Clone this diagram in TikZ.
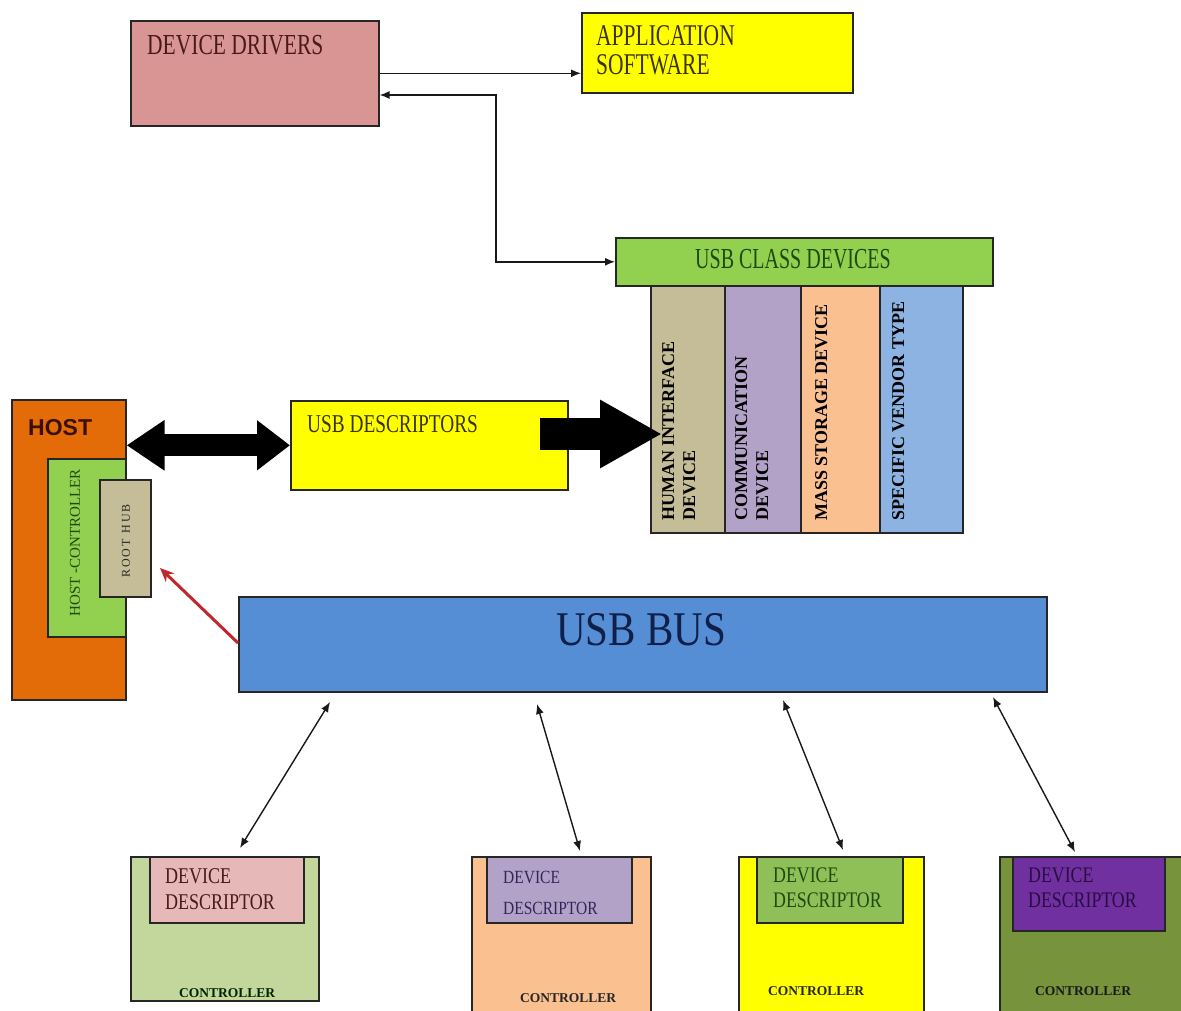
\documentclass[tikz,border=0pt]{standalone}
\usepackage{fontspec}
\setmainfont{Liberation Serif}
\newfontfamily\hostfont{Liberation Sans}
\usetikzlibrary{arrows.meta,calc}
\definecolor{ddfill}{HTML}{D99594}
\definecolor{yel}{HTML}{FFFF00}
\definecolor{grn}{HTML}{92D050}
\definecolor{tan}{HTML}{C4BD97}
\definecolor{lav}{HTML}{B3A2C7}
\definecolor{peach}{HTML}{FAC090}
\definecolor{ltblue}{HTML}{8DB3E2}
\definecolor{hostor}{HTML}{E36C09}
\definecolor{busblue}{HTML}{558ED5}
\definecolor{sage}{HTML}{C3D69B}
\definecolor{pinkd}{HTML}{E6B9B8}
\definecolor{grn2}{HTML}{8FC058}
\definecolor{olive}{HTML}{77933C}
\definecolor{purp}{HTML}{7030A0}
\definecolor{redarr}{HTML}{C0282D}
\definecolor{tmaroon}{HTML}{4A1A1A}
\definecolor{tolive}{HTML}{3A3300}
\definecolor{tgreen}{HTML}{1F4A10}
\definecolor{tnavy}{HTML}{10204A}
\definecolor{tpurple}{HTML}{33245A}
\definecolor{tdpurple}{HTML}{2A0C45}
\definecolor{thost}{HTML}{3A1000}
\newcommand{\sy}[2]{\scalebox{1}[#1]{#2}}
\newcommand{\fs}[1]{\fontsize{#1}{#1}\selectfont}
\tikzset{
  box/.style={draw=black!85, line width=1.6pt, rectangle, inner sep=0pt, anchor=north west},
  lbl/.style={anchor=base west, inner sep=0pt},
  rlbl/.style={rotate=90, anchor=north west, inner sep=0pt, align=left, font=\bfseries\fontsize{18}{21}\selectfont},
  conn/.style={draw=black!90, line width=1.4pt},
  tip/.tip={Latex[length=10pt,width=8pt]},
  dbl/.style={conn, tip-tip},
}
\newcommand{\bx}[6]{\node[box, fill=#6, minimum width={(#4-#2)*1pt}, minimum height={(#5-#3)*1pt}] (#1) at (#2,#3) {};}
\begin{document}
\begin{tikzpicture}[x=1pt,y=-1pt]
\useasboundingbox (0,0) rectangle (1181,1010);
\clip (0,0) rectangle (1181,1010);
\fill[white] (0,0) rectangle (1181,1010);
% top boxes
\bx{dd}{130}{20}{378}{125}{ddfill}
\bx{as}{581}{12}{852}{92}{yel}
\node[lbl, text=tmaroon, font=\fs{21.5}] (ddt) at (147,54) {\sy{1.35}{DEVICE DRIVERS}};
\node[lbl, text=tolive, font=\fs{21.5}] (ast1) at (596,45) {\sy{1.4}{APPLICATION}};
\node[lbl, text=tolive, font=\fs{21.5}] (ast2) at (596,74) {\sy{1.4}{SOFTWARE}};
% USB class devices
\bx{ucd}{615}{237}{992}{285}{grn}
\node[lbl, text=tgreen, font=\fs{20}] (ucdt) at (695,268) {\sy{1.45}{USB CLASS DEVICES}};
\bx{hid}{650}{285}{724}{532}{tan}
\bx{com}{724}{285}{800}{532}{lav}
\bx{msd}{800}{285}{879}{532}{peach}
\bx{svt}{879}{285}{962}{532}{ltblue}
\node[rlbl] (hidt) at (662,521) {HUMAN INTERFACE\\DEVICE};
\node[rlbl] (comt) at (735,521) {COMMUNICATION\\DEVICE};
\node[rlbl] (msdt) at (815,521) {MASS STORAGE DEVICE};
\node[rlbl] (svtt) at (892,521) {SPECIFIC VENDOR TYPE};
% host
\bx{host}{11}{399}{125}{699}{hostor}
\bx{hc}{47}{458}{125}{636}{grn}
\bx{rh}{99}{479}{150}{596}{tan}
\node[lbl, text=thost, font=\hostfont\bfseries\fs{23}] (hostt) at (28,435) {HOST};
\node[rotate=90, inner sep=0pt, text=tgreen, font=\fs{15}] (hct) at (75,543) {HOST -CONTROLLER};
\node[rotate=90, inner sep=0pt, text=black!85, font=\addfontfeature{LetterSpace=18}\fs{12}] (rht) at (126,541) {ROOT HUB};
% USB descriptors
\bx{usbd}{290}{400}{567}{489}{yel}
\node[lbl, text=tolive, font=\fs{19.3}] (usbdt) at (307,432) {\sy{1.33}{USB DESCRIPTORS}};
% USB bus
\bx{bus}{238}{596}{1046}{691}{busblue}
\node[lbl, text=tnavy, font=\fs{41}] (bust) at (556,645) {\sy{1.18}{USB BUS}};
% bottom boxes
\bx{b1}{130}{856}{318}{1000}{sage}
\bx{d1}{149}{856}{303}{922}{pinkd}
\bx{b2}{471}{856}{650}{1030}{peach}
\bx{d2}{486}{856}{631}{922}{lav}
\bx{b3}{738}{856}{923}{1030}{yel}
\bx{d3}{756}{856}{902}{922}{grn2}
\bx{b4}{999}{856}{1200}{1030}{olive}
\bx{d4}{1012}{856}{1164}{930}{purp}
\node[lbl, text=tmaroon, font=\fs{18}] (d1a) at (165,883) {\sy{1.25}{DEVICE}};
\node[lbl, text=tmaroon, font=\fs{18}] (d1b) at (165,909) {\sy{1.25}{DESCRIPTOR}};
\node[lbl, text=tpurple, font=\fs{15.5}] (d2a) at (503,883) {\sy{1.2}{DEVICE}};
\node[lbl, text=tpurple, font=\fs{15.5}] (d2b) at (503,914) {\sy{1.2}{DESCRIPTOR}};
\node[lbl, text=tgreen, font=\fs{17.8}] (d3a) at (773,882) {\sy{1.25}{DEVICE}};
\node[lbl, text=tgreen, font=\fs{17.8}] (d3b) at (773,907) {\sy{1.25}{DESCRIPTOR}};
\node[lbl, text=tdpurple, font=\fs{17.8}] (d4a) at (1028,882) {\sy{1.25}{DEVICE}};
\node[lbl, text=tdpurple, font=\fs{17.8}] (d4b) at (1028,907) {\sy{1.25}{DESCRIPTOR}};
\node[lbl, text=black!85!green, font=\bfseries\fs{13.5}] (c1) at (179,997) {CONTROLLER};
\node[lbl, text=black!85, font=\bfseries\fs{13.5}] (c2) at (520,1002) {CONTROLLER};
\node[lbl, text=black!85, font=\bfseries\fs{13.5}] (c3) at (768,995) {CONTROLLER};
\node[lbl, text=black!90, font=\bfseries\fs{13.5}] (c4) at (1035,995) {CONTROLLER};
% connectors top
\draw[conn, -tip] (dd.east) -- (dd.east -| as.west);
\coordinate (jn) at (496,95);
\draw[conn, tip-tip] (ucd.west) -| (jn) -- (jn -| dd.east);
% thick arrows
\draw[line width=22pt, {Triangle[length=38pt,width=48pt]}-{Triangle[length=33pt,width=48pt]}] (usbd.west -| host.east) -- (usbd.west);
\coordinate (ra) at (540,434);
\draw[line width=32pt, -{Triangle[length=62pt,width=64pt]}] (ra) -- ($(hid.west |- ra)+(12,0)$);
% red arrow
\coordinate (rs) at (238,643);
\coordinate (re) at (160,568);
\draw[draw=redarr, line width=3pt, -{Stealth[length=14pt,width=12pt]}] (rs) -- (re);
% bottom arrows
\coordinate (a1t) at (330,702); \coordinate (a1b) at (240,848);
\coordinate (a2t) at (537,704); \coordinate (a2b) at (580,851);
\coordinate (a3t) at (783,700); \coordinate (a3b) at (843,850);
\coordinate (a4t) at (993,697); \coordinate (a4b) at (1075,852);
\draw[dbl] (a1t) -- (a1b);
\draw[dbl] (a2t) -- (a2b);
\draw[dbl] (a3t) -- (a3b);
\draw[dbl] (a4t) -- (a4b);
\end{tikzpicture}
\end{document}
